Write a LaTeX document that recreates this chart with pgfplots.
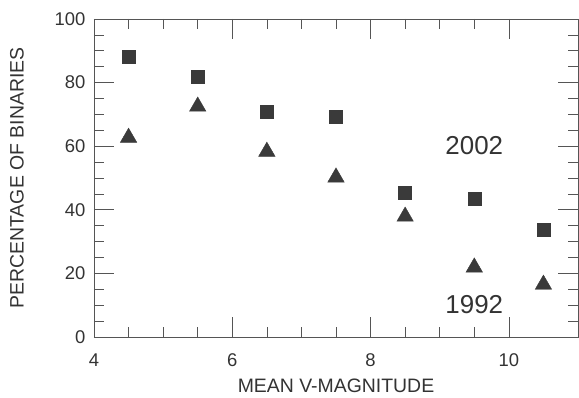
\documentclass[border=0pt]{standalone}
\usepackage{fontspec}
\setmainfont{Liberation Sans}
\usepackage{pgfplots}
\pgfplotsset{compat=1.18}
\definecolor{ink}{HTML}{333333}
\definecolor{mk}{HTML}{3A3A3A}
\definecolor{ax}{HTML}{555555}
\begin{document}
\begin{tikzpicture}
\begin{axis}[
  scale only axis,
  width=484bp, height=318bp,
  xmin=4, xmax=11, ymin=0, ymax=100,
  xtick={4,6,8,10}, ytick={0,20,40,60,80,100},
  minor x tick num=3, minor y tick num=3,
  tick align=inside,
  major tick length=20bp, minor tick length=10bp,
  axis line style={ax, line width=0.7pt},
  every tick/.style={ax, line width=0.7pt},
  /pgf/number format/assume math mode=true,
  ticklabel style={font=\fontsize{18.5}{18.5}\selectfont, text=ink},
  xticklabel style={yshift=-13bp},
  yticklabel style={xshift=-5bp},
  xlabel={MEAN V-MAGNITUDE},
  ylabel={PERCENTAGE OF BINARIES},
  label style={font=\fontsize{19.5}{19.5}\selectfont, text=ink},
  xlabel style={yshift=-9bp, inner sep=0pt},
  ylabel style={yshift=24bp},
  clip=false,
]
\addplot[only marks, mark=square*, mark size=6.5bp, color=mk] coordinates {
(4.5,88.0) (5.5,82.0) (6.5,71.0) (7.5,69.4) (8.5,45.4) (9.5,43.4) (10.5,33.6)};
\addplot[only marks, mark=triangle*, mark size=9.5bp, color=mk] coordinates {
(4.5,62.7) (5.5,72.5) (6.5,58.3) (7.5,50.2) (8.5,37.9) (9.5,21.9) (10.5,16.5)};
\node[font=\fontsize{26}{26}\selectfont, text=ink] at (axis cs:9.5,60.3) {2002};
\node[font=\fontsize{26}{26}\selectfont, text=ink] at (axis cs:9.5,10.3) {1992};
\end{axis}
\pgfresetboundingbox
\path ([shift={(-94bp,-61bp)}]current axis.south west) rectangle ([shift={(1bp,19bp)}]current axis.north east);
\end{tikzpicture}
\end{document}
